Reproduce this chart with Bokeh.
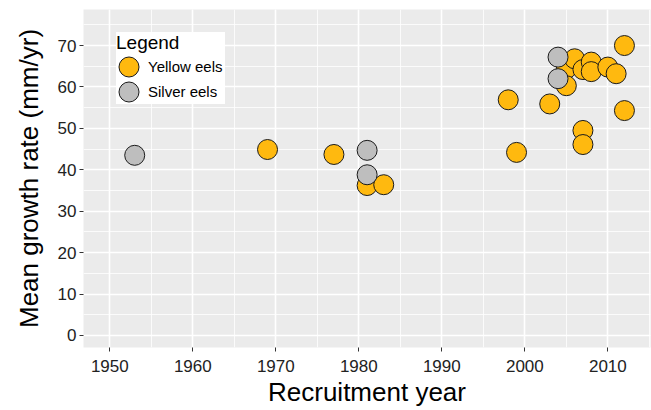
from bokeh.plotting import figure
from bokeh.models import (ColumnDataSource, Range1d, SingleIntervalTicker,
                          Legend, LegendItem)
from bokeh.embed import file_html
from bokeh.resources import INLINE

# ---- data ----
series_names = ["Yellow eels", "Silver eels"]
series_colors = ["#FFB90F", "#BEBEBE"]

yellow_year = [1969, 1977, 1981, 1983, 1998, 1999, 2003, 2005, 2005, 2006,
               2007, 2007, 2007, 2008, 2008, 2010, 2011, 2012, 2012]
yellow_rate = [44.9, 43.7, 36.2, 36.4, 56.9, 44.2, 55.9, 64.4, 60.3, 66.8,
               64.2, 49.5, 46.1, 66.0, 63.7, 64.8, 63.2, 70.0, 54.3]

silver_year = [1953, 1981, 1981, 2004, 2004]
silver_rate = [43.5, 44.7, 38.8, 67.2, 62.0]

x_title = "Recruitment year"
y_title = "Mean growth rate (mm/yr)"
legend_title = "Legend"

FONT = "Liberation Sans"

p = figure(frame_width=567, frame_height=338,
           x_range=Range1d(1946.83, 2015.14), y_range=Range1d(-2.9, 78.7),
           output_backend="svg", toolbar_location=None,
           min_border_left=83, min_border_right=1,
           min_border_top=9, min_border_bottom=63)

p.background_fill_color = "#EBEBEB"
p.border_fill_color = "white"
p.outline_line_color = None

p.xaxis.ticker = SingleIntervalTicker(interval=10, num_minor_ticks=2)
p.yaxis.ticker = SingleIntervalTicker(interval=10, num_minor_ticks=2)

for g in p.grid:
    g.grid_line_color = "white"
    g.grid_line_width = 1.6
    g.minor_grid_line_color = "white"
    g.minor_grid_line_width = 0.8

for ax in (p.xaxis[0], p.yaxis[0]):
    ax.axis_line_color = None
    ax.major_tick_line_color = "#333333"
    ax.major_tick_line_width = 1
    ax.major_tick_in = 0
    ax.major_tick_out = 4
    ax.minor_tick_line_color = None
    ax.major_label_text_font = FONT
    ax.major_label_text_font_size = "17px"
    ax.major_label_text_color = "#222222"
    ax.axis_label_text_font = FONT
    ax.axis_label_text_font_size = "26px"
    ax.axis_label_text_font_style = "normal"
    ax.axis_label_text_color = "black"

p.xaxis.axis_label = x_title
p.yaxis.axis_label = y_title
p.xaxis.major_label_standoff = 8
p.xaxis.axis_label_standoff = 2
p.yaxis.major_label_standoff = 3
p.yaxis.axis_label_standoff = 11

src_y = ColumnDataSource(dict(x=yellow_year, y=yellow_rate))
src_s = ColumnDataSource(dict(x=silver_year, y=silver_rate))

ry = p.ellipse(x="x", y="y", width=20, height=20, width_units="screen",
               height_units="screen", source=src_y,
               fill_color=series_colors[0], line_color="#1a1a1a", line_width=1)
rs = p.ellipse(x="x", y="y", width=20, height=20, width_units="screen",
               height_units="screen", source=src_s,
               fill_color=series_colors[1], line_color="#1a1a1a", line_width=1)

legend = Legend(items=[LegendItem(label=series_names[0], renderers=[ry]),
                       LegendItem(label=series_names[1], renderers=[rs])],
                title=legend_title, location=(33, 243))
legend.title_text_font = FONT
legend.title_text_font_size = "19px"
legend.title_text_font_style = "normal"
legend.title_text_color = "black"
legend.title_standoff = 0
legend.label_text_font = FONT
legend.label_text_font_size = "15px"
legend.label_text_color = "black"
legend.glyph_width = 25
legend.glyph_height = 25
legend.label_height = 20
legend.label_width = 77
legend.label_standoff = 7
legend.spacing = 0
legend.padding = 5
legend.margin = 0
legend.border_line_color = None
legend.background_fill_color = "white"
legend.background_fill_alpha = 1.0
p.add_layout(legend)

open("out.html", "w").write(file_html(p, INLINE))
